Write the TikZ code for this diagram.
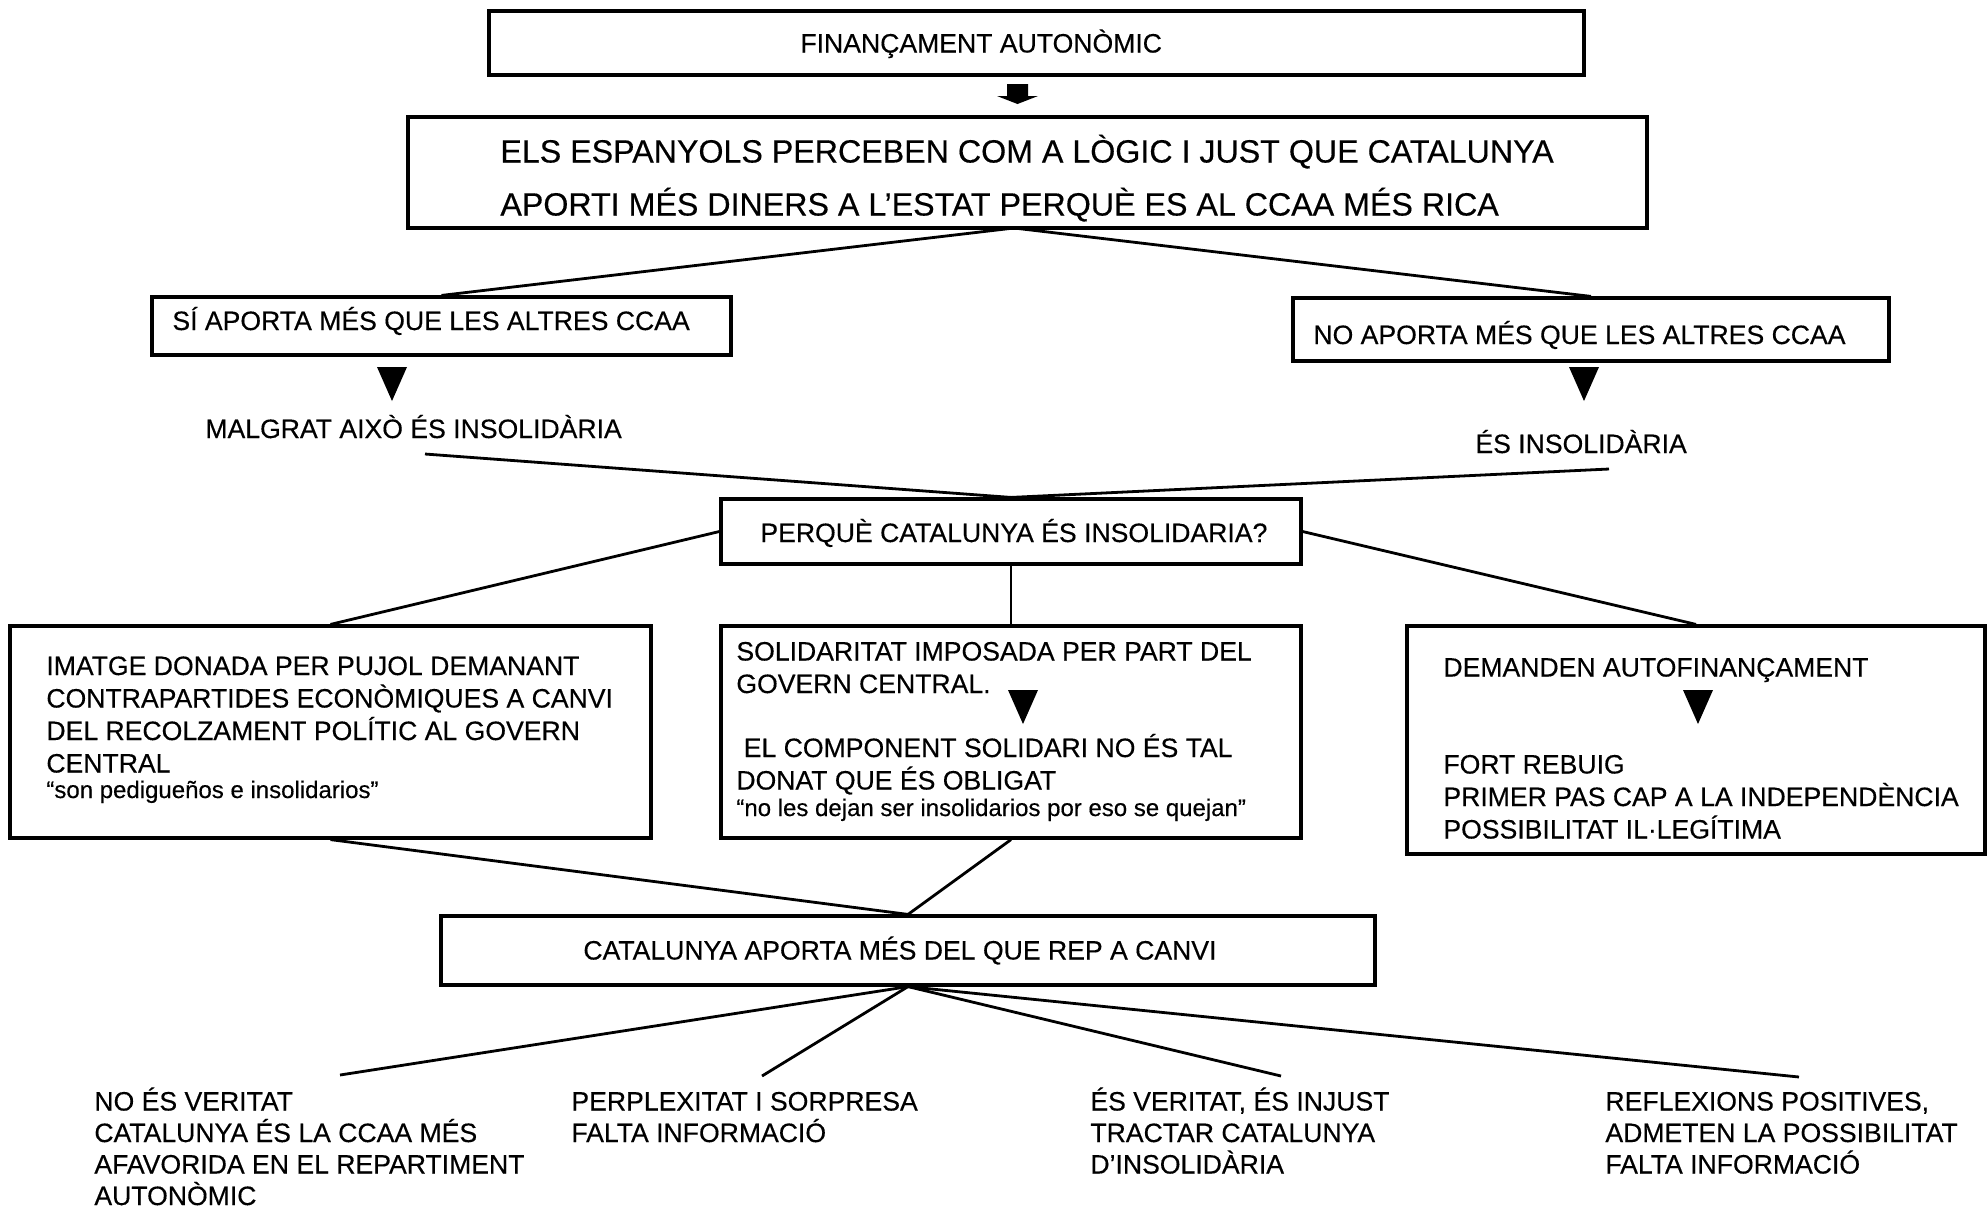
\documentclass[tikz,border=0pt]{standalone}
\usepackage{fontspec}
\setmainfont{Liberation Sans}[UprightFeatures={FakeBold=0.35}]
\usetikzlibrary{fit}
\newcommand\stdf{\fontsize{13.3}{16.25}\selectfont}
\newcommand\bigf{\fontsize{16.1}{26.5}\selectfont}
\newcommand\quof{\fontsize{12}{14}\selectfont}
\newcommand\botf{\fontsize{13.3}{15.75}\selectfont}
\newcommand\tblock[1]{\vtop{\lineskiplimit=-100pt\relax\lineskip=0pt\relax #1}}
\begin{document}
\begin{tikzpicture}[x=0.5pt,y=-0.5pt,
  box/.style={draw, line width=1.6pt, inner sep=0pt},
  txt/.style={anchor=base west, inner sep=0pt, font=\stdf},
  conn/.style={line width=1.4pt},
  thinconn/.style={line width=1pt},
  downtri/.pic={\fill (-15,-17) -- (15,-17) -- (0,17) -- cycle;}]
\fill[white] (0,0) rectangle (1987,1207);
\useasboundingbox (0,0) rectangle (1987,1207);
% boxes
\node[box, fit={(489,11) (1584,75)}] (b1) {};
\node[box, fit={(408,117) (1647,228)}] (b2) {};
\node[box, fit={(152,297) (731,355)}] (si) {};
\node[box, fit={(1293,298) (1889,361)}] (no) {};
\node[box, fit={(721,499) (1301,564)}] (perq) {};
\node[box, fit={(10,626) (651,838)}] (imat) {};
\node[box, fit={(721,626) (1301,838)}] (sol) {};
\node[box, fit={(1407,626) (1985,854)}] (dem) {};
\node[box, fit={(441,916) (1375,985)}] (cat) {};
% texts
\node[txt] (t1) at (800,52.5) {FINANÇAMENT AUTONÒMIC};
\node[txt, font=\bigf] (t2) at (500,162.5) {\tblock{\hbox{ELS ESPANYOLS PERCEBEN COM A LÒGIC I JUST QUE CATALUNYA}\hbox{APORTI MÉS DINERS A L’ESTAT PERQUÈ ES AL CCAA MÉS RICA}}};
\node[txt] (tsi) at (172,330) {SÍ APORTA MÉS QUE LES ALTRES CCAA};
\node[txt] (tno) at (1313,344) {NO APORTA MÉS QUE LES ALTRES CCAA};
\node[txt] (malg) at (205,438) {MALGRAT AIXÒ ÉS INSOLIDÀRIA};
\node[txt] (esins) at (1475,453) {ÉS INSOLIDÀRIA};
\node[txt] (tperq) at (760,542) {PERQUÈ CATALUNYA ÉS INSOLIDARIA?};
\node[txt] (timat) at (46,675) {\tblock{\hbox{IMATGE DONADA PER PUJOL DEMANANT}\hbox{CONTRAPARTIDES ECONÒMIQUES A CANVI}\hbox{DEL RECOLZAMENT POLÍTIC AL GOVERN}\hbox{CENTRAL}\vskip-3.5pt\hbox{\quof “son pedigueños e insolidarios”}}};
\node[txt] (tsol) at (736,660.5) {\tblock{\hbox{SOLIDARITAT IMPOSADA PER PART DEL}\hbox{GOVERN CENTRAL.}\vskip15.75pt\hbox{\ EL COMPONENT SOLIDARI NO ÉS TAL}\hbox{DONAT QUE ÉS OBLIGAT}\vskip-3pt\hbox{\quof “no les dejan ser insolidarios por eso se quejan”}}};
\node[txt] (tdem) at (1443,676.5) {\tblock{\hbox{DEMANDEN AUTOFINANÇAMENT}\vskip32.25pt\hbox{FORT REBUIG}\hbox{PRIMER PAS CAP A LA INDEPENDÈNCIA}\hbox{POSSIBILITAT IL·LEGÍTIMA}}};
\node[txt] (tcat) at (583,959.5) {CATALUNYA APORTA MÉS DEL QUE REP A CANVI};
\node[txt, font=\botf] (r1) at (94,1110.5) {\tblock{\hbox{NO ÉS VERITAT}\hbox{CATALUNYA ÉS LA CCAA MÉS}\hbox{AFAVORIDA EN EL REPARTIMENT}\hbox{AUTONÒMIC}}};
\node[txt, font=\botf] (r2) at (571,1110.5) {\tblock{\hbox{PERPLEXITAT I SORPRESA}\hbox{FALTA INFORMACIÓ}}};
\node[txt, font=\botf] (r3) at (1090,1110.5) {\tblock{\hbox{ÉS VERITAT, ÉS INJUST}\hbox{TRACTAR CATALUNYA}\hbox{D’INSOLIDÀRIA}}};
\node[txt, font=\botf] (r4) at (1605,1110.5) {\tblock{\hbox{REFLEXIONS POSITIVES,}\hbox{ADMETEN LA POSSIBILITAT}\hbox{FALTA INFORMACIÓ}}};
% arrows / triangles
\fill (1007,84) -- (1028,84) -- (1028,96) -- (1038,96) -- (1017.5,104) -- (997,96) -- (1007,96) -- cycle;
\pic at (392,384) {downtri};
\pic at (1584,384) {downtri};
\pic at (1023,707) {downtri};
\pic at (1698,707) {downtri};
% connectors
\coordinate (a1) at (1014,228);
\coordinate (m1) at (425,454);
\coordinate (e1) at (1609,469);
\coordinate (c1) at (340,1075);
\coordinate (c2) at (762,1076);
\coordinate (c3) at (1281,1076);
\coordinate (c4) at (1799,1077);
\draw[conn] (a1) -- (si.north);
\draw[conn] (a1) -- (no.north);
\draw[conn] (m1) -- (perq.north);
\draw[conn] (e1) -- (perq.north);
\draw[conn] (perq.west) -- (imat.north);
\draw[thinconn] (perq.south) -- (sol.north);
\draw[conn] (perq.east) -- (dem.north);
\draw[conn] (imat.south) -- (cat.north);
\draw[conn] (sol.south) -- (cat.north);
\draw[conn] (cat.south) -- (c1);
\draw[conn] (cat.south) -- (c2);
\draw[conn] (cat.south) -- (c3);
\draw[conn] (cat.south) -- (c4);
\end{tikzpicture}
\end{document}
